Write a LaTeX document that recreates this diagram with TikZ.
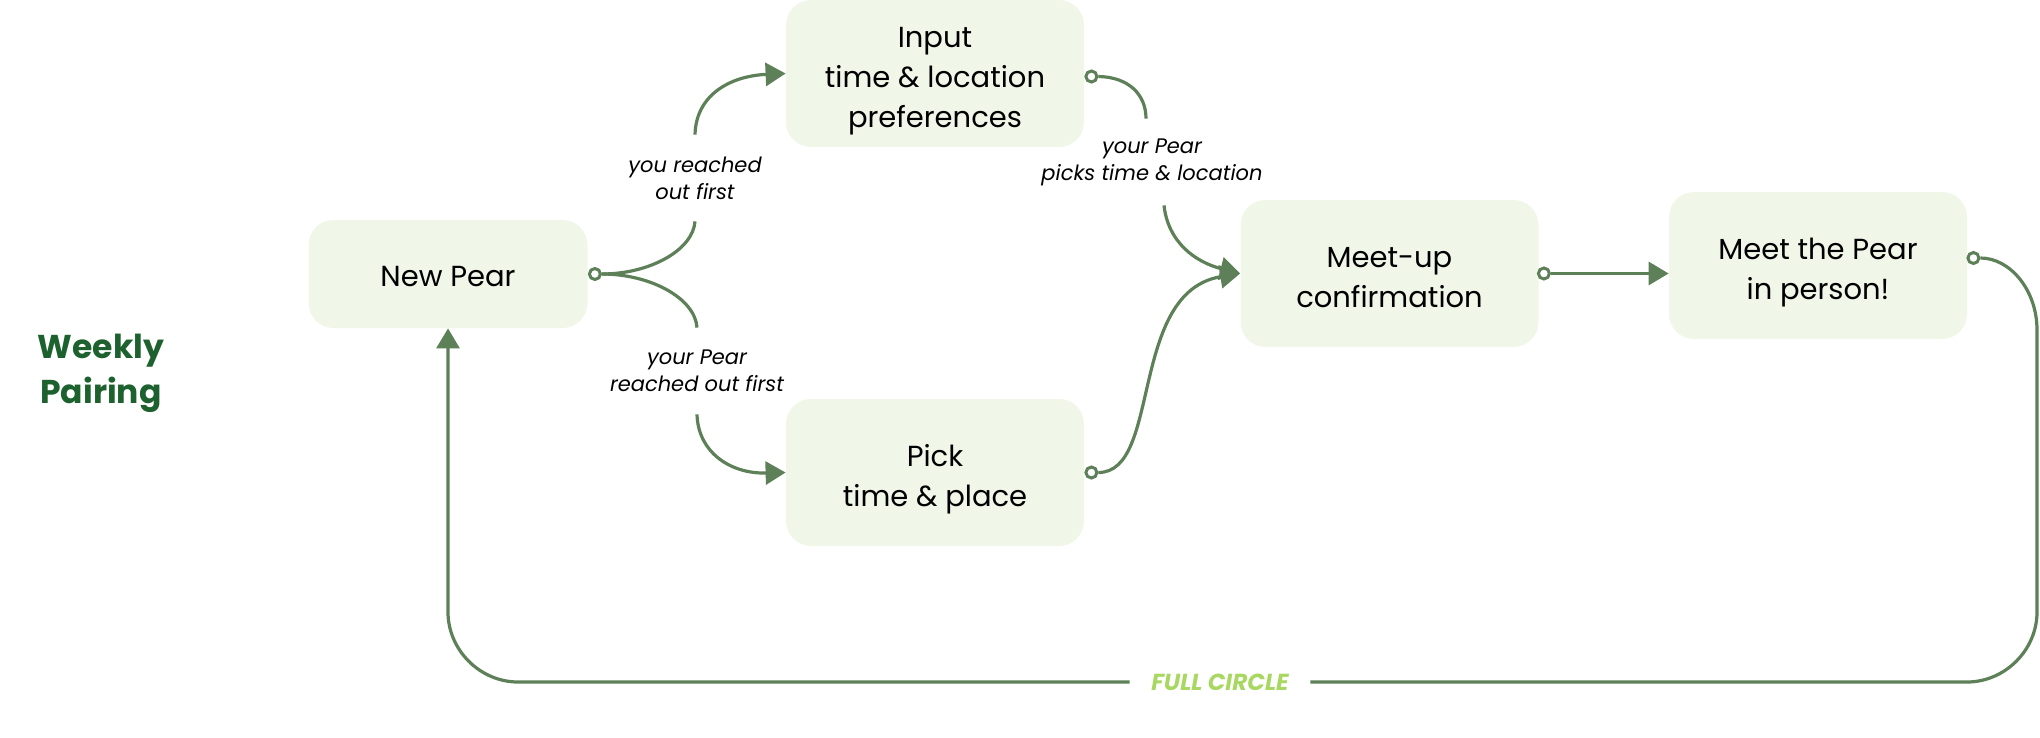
\documentclass[tikz,border=0pt]{standalone}
\usepackage{fontspec}
\setmainfont{Poppins}
\usetikzlibrary{arrows.meta,positioning}
\definecolor{boxfill}{RGB}{240,246,232}
\definecolor{linegreen}{RGB}{94,128,88}
\definecolor{titlegreen}{RGB}{28,97,46}
\definecolor{circlegreen}{RGB}{168,216,98}

\begin{document}
\begin{tikzpicture}[x=0.5pt,y=0.5pt,yscale=-1,
	stepbox/.style={fill=boxfill, rounded corners=12.5pt, minimum width=149pt, minimum height=73.5pt, inner sep=0pt, align=center, font=\fontsize{14.5}{20}\selectfont, text height=33.5pt, text depth=0pt},
	outdot/.style={circle, draw=linegreen, fill=white, line width=1.5pt, minimum size=5.5pt, inner sep=0pt},
	conn/.style={draw=linegreen, line width=1.6pt},
	flow/.style={conn, -{Triangle[length=10pt,width=11.5pt]}},
	choice/.style={font=\fontsize{10.5}{13.5}\selectfont\itshape, align=center, inner sep=0pt, minimum height=43pt}]
	\useasboundingbox (0,0) rectangle (2040,738);
	
	% Text Node
	\node [font=\fontsize{16.5}{22.5}\selectfont\bfseries, text=titlegreen, align=center] (title) at (101,373) {Weekly\\Pairing};
	
	%Shape: Rounded Rect
	\node [stepbox, minimum width=139.5pt, minimum height=54pt, text height=12pt] (np) at (448,274) {New Pear};
	\node [stepbox, text height=54pt] (inp) at (935,73.5) {Input\\time \& location\\preferences};
	\node [stepbox] (pick) at (935,472.5) {Pick\\time \& place};
	\node [stepbox] (meet) at (1389.5,273.5) {Meet-up\\confirmation};
	\node [stepbox] (mtp) at (1818,265.5) {Meet the Pear\\in person!};
	
	%Shape: Circle
	\node [outdot] (npo) at ([shift={(7,0)}]np.east) {};
	\node [outdot] (inpo) at ([shift={(7,3)}]inp.east) {};
	\node [outdot] (picko) at ([shift={(7,0)}]pick.east) {};
	\node [outdot] (meeto) at ([shift={(5,0)}]meet.east) {};
	\node [outdot] (mtpo) at ([shift={(6,-7.5)}]mtp.east) {};
	
	% Text Node
	\node [choice] (up) at (695,178) {you reached\\out first};
	\node [choice] (down) at (697,371) {your Pear\\reached out first};
	\node [choice] (pk) at (1152,162) {your Pear\\picks time \& location};
	\node [font=\fontsize{11.6}{14}\selectfont\bfseries\itshape, text=circlegreen, minimum width=90pt, inner sep=0pt] (full) at (1220,682) {FULL CIRCLE};
	
	%Curve Lines
	\draw [conn] (npo.east) .. controls (650,274) and (693,250) .. (up.south);
	\draw [flow] (up.north) .. controls (696,95) and (730,76) .. (inp.west);
	\draw [conn] (npo.east) .. controls (650,274) and (695,298) .. (down.north);
	\draw [flow] (down.south) .. controls (698,452) and (730,474) .. (pick.west);
	\draw [conn] (inpo.east) .. controls (1128,77) and (1146,94) .. ([xshift=-3pt]pk.north);
	\draw [flow] ([xshift=6pt]pk.south) .. controls (1168,242) and (1195,262) .. (meet.west);
	\draw [flow] (picko.east) .. controls (1162,472.5) and (1128,292) .. (meet.west);
	%Straight Lines
	\draw [flow] (meeto.east) -- (meeto.east -| mtp.west);
	%Full circle
	\draw [conn] (mtpo.east) .. controls (2010,258) and (2037,290) .. (2037,330) -- (2037,612) .. controls (2037,650) and (2005,682) .. (1967,682) -- (full.east);
	\draw [flow] (full.west) -- (518,682) .. controls (480,682) and (448,650) .. (448,612) -- (np.south);
	
\end{tikzpicture}
\end{document}
